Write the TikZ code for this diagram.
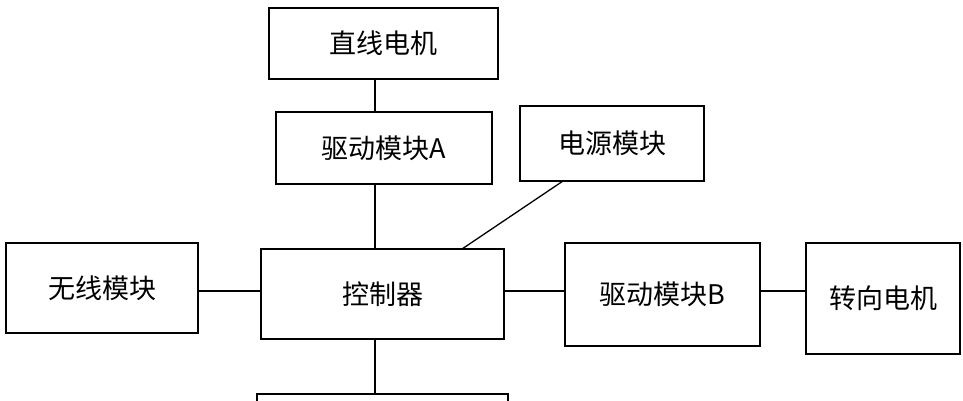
\documentclass[tikz,border=0pt]{standalone}
\usepackage{fontspec}
\setmainfont{Noto Sans CJK SC}
\begin{document}
\begin{tikzpicture}[x=1pt,y=-1pt,
  box/.style={draw,line width=1.6pt,inner sep=0pt,font=\fontsize{27}{30}\selectfont},
  conn/.style={line width=1.3pt}]
\useasboundingbox (0,0) rectangle (963,400);
\node[box,minimum width=229,minimum height=71] (zx) at (383.5,43.5) {直线电机};
\node[box,minimum width=216,minimum height=72] (qa) at (384,148) {驱动模块A};
\node[box,minimum width=184,minimum height=75] (dy) at (612,143.5) {电源模块};
\node[box,minimum width=192,minimum height=90] (wx) at (102,288) {无线模块};
\node[box,minimum width=243,minimum height=90] (kz) at (382.5,294) {控制器};
\node[box,minimum width=195,minimum height=103] (qb) at (662.5,294.5) {驱动模块B};
\node[box,minimum width=154,minimum height=111] (zd) at (883,298.5) {转向电机};
\node[box,minimum width=251,minimum height=40,anchor=north] (bt) at (382.5,393) {};
\draw[conn] (375,79) -- (375,112);
\draw[conn] (375,184) -- (375,249);
\draw[conn] (563,181) -- (462,249);
\draw[conn] (wx.east |- 0,291) -- (kz.west |- 0,291);
\draw[conn] (kz.east |- 0,291) -- (qb.west |- 0,291);
\draw[conn] (qb.east |- 0,291) -- (zd.west |- 0,291);
\draw[conn] (375,339) -- (375,393);
\end{tikzpicture}
\end{document}
